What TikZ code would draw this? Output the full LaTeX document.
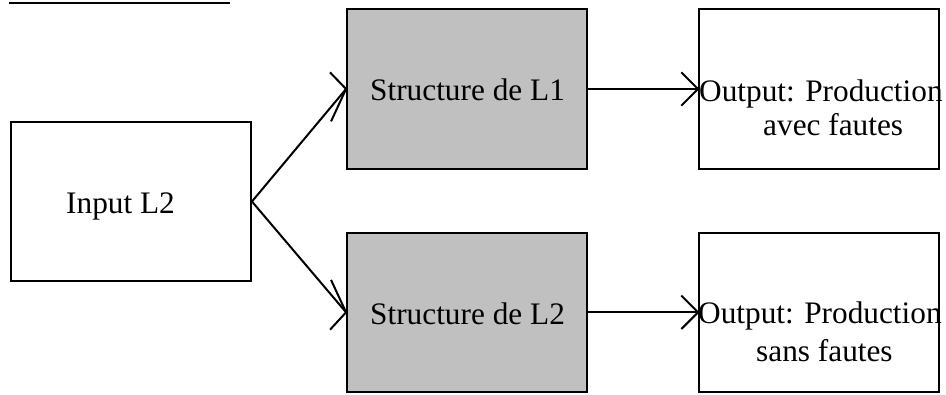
\documentclass[tikz,border=0pt]{standalone}
\usepackage{fontspec}
\setmainfont{Liberation Serif}
\definecolor{boxgray}{RGB}{192,192,192}
\begin{document}
\begin{tikzpicture}[x=1pt,y=-1pt,
  box/.style={draw=black, line width=1.9pt, rectangle, minimum width=240pt, minimum height=160pt, inner sep=0pt},
  graybox/.style={box, fill=boxgray},
  txt/.style={inner sep=0pt, font=\fontsize{31.3}{36}\selectfont},
  conn/.style={line width=2pt},
  barb/.style={line width=2pt, line join=miter}]
\useasboundingbox (0,0) rectangle (946,394);
% top rule
\coordinate (ruleL) at (9,2.7);
\coordinate (ruleR) at (230,2.7);
\draw[line width=2pt] (ruleL) -- (ruleR);
% boxes
\node[box, minimum height=159pt] (in) at (131,201.5) {};
\node[graybox] (s1) at (467,89) {};
\node[graybox, minimum height=158.5pt] (s2) at (467,312.3) {};
\node[box] (o1) at (819,89) {};
\node[box, minimum height=158.5pt] (o2) at (819,312.3) {};
% texts
\node[txt, anchor=base west] (tin) at (66,213) {Input L2};
\node[txt, anchor=base west] (ts1) at (370,100) {Structure de L1};
\node[txt, anchor=base west] (ts2) at (370,324) {Structure de L2};
\node[txt, anchor=base west] (to1a) at (699,101) {Output: Production};
\node[txt, anchor=base west] (to1b) at (763,135) {avec fautes};
\node[txt, anchor=base west] (to2a) at (698,323) {Output: Production};
\node[txt, anchor=base west] (to2b) at (756,361) {sans fautes};
% connectors
\draw[conn] (in.east) -- (s1.west);
\draw[barb] (s1.west) ++(-16,-16.6) -- (s1.west) -- ++(-15,32.4);
\draw[conn] (in.east) -- (s2.west);
\draw[barb] (s2.west) ++(-16,17.4) -- (s2.west) -- ++(-15,-32.4);
\draw[conn] (s1.east) -- (o1.west);
\draw[barb] (o1.west) ++(-16.7,-16.7) -- (o1.west) -- ++(-16.7,16.7);
\draw[conn] (s2.east) -- (o2.west);
\draw[barb] (o2.west) ++(-16.7,-16.7) -- (o2.west) -- ++(-16.7,16.7);
\end{tikzpicture}
\end{document}
